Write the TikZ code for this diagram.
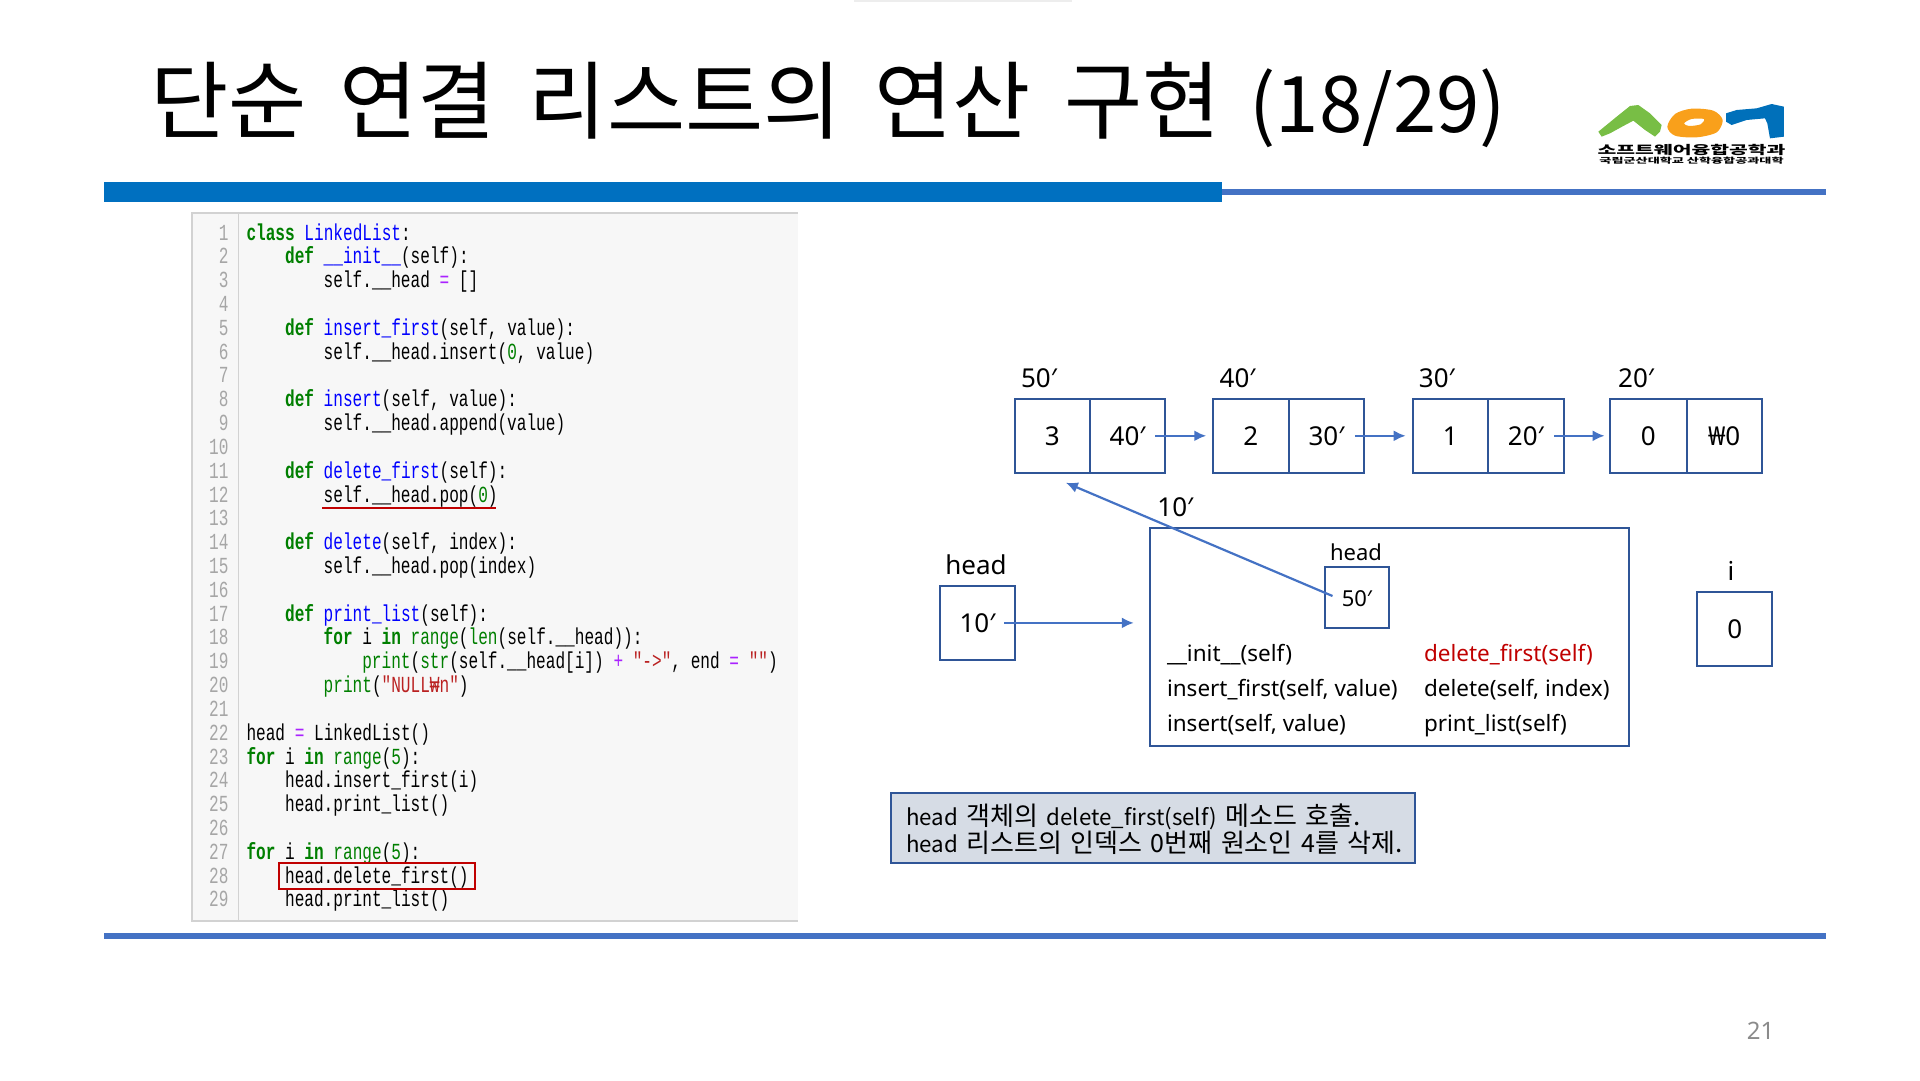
\documentclass[tikz,border=0pt]{standalone}
\usepackage{fontspec}
\setmainfont{Noto Sans}
\newfontfamily\krfont{Noto Sans CJK KR}
\newfontfamily\codefont[FakeStretch=0.7]{Liberation Mono}
\usetikzlibrary{arrows.meta}
\definecolor{barBlue}{HTML}{0070C0}
\definecolor{thinBlue}{HTML}{4472C4}
\definecolor{boxBlue}{HTML}{2F5597}
\definecolor{noteFill}{HTML}{D6DCE5}
\definecolor{markRed}{HTML}{C00000}
\definecolor{panelFill}{HTML}{F7F7F7}
\definecolor{panelLine}{HTML}{D2D2D2}
\definecolor{numGray}{HTML}{A6A6A6}
\definecolor{pageGray}{HTML}{8B8B8B}
\definecolor{kwColor}{HTML}{007F00}
\definecolor{fnColor}{HTML}{0000FF}
\definecolor{opColor}{HTML}{AA22FF}
\definecolor{strColor}{HTML}{BA2121}
\definecolor{logoGreen}{HTML}{78BE45}
\definecolor{logoOrange}{HTML}{F9A01B}
\definecolor{logoBlue}{HTML}{0070BA}
\newcommand{\kwd}[1]{\textcolor{kwColor}{\bfseries #1}}
\newcommand{\fnc}[1]{\textcolor{fnColor}{#1}}
\newcommand{\blt}[1]{\textcolor{kwColor}{#1}}
\newcommand{\opr}[1]{\textcolor{opColor}{#1}}
\newcommand{\strg}[1]{\textcolor{strColor}{#1}}
\newcommand{\kor}[1]{{\fontsize{26}{27}\selectfont #1}}
\newcommand{\digt}[1]{{\fontsize{25}{27}\selectfont #1}}
\newcommand{\tgap}{\hspace{33pt}}
\newcommand{\ngap}{\hspace{8.5pt}}
\newcommand{\codeline}[3]{\node[codetext] (ln#1) at ({246.5+9.65*#2},{240+23.82*(#1-1)}) {#3};}
\tikzset{
  codetext/.style={anchor=base west,inner sep=0pt,outer sep=0pt,font=\codefont\fontsize{23}{26}\selectfont},
  numtext/.style={anchor=base east,inner sep=0pt,outer sep=0pt,text=numGray,font=\codefont\fontsize{23}{26}\selectfont},
  cell/.style={draw=boxBlue,line width=2pt,inner sep=0pt,outer sep=0pt,text height=19pt,text depth=0pt,font=\fontsize{26}{30}\selectfont},
  addr/.style={inner sep=0pt,outer sep=0pt,text height=19pt,text depth=0pt,font=\fontsize{26}{30}\selectfont},
  smalladdr/.style={inner sep=0pt,outer sep=0pt,text height=16pt,text depth=0pt,font=\fontsize{22}{26}\selectfont},
  method/.style={anchor=base west,inner sep=0pt,outer sep=0pt,font=\fontsize{22.5}{28}\selectfont},
  note/.style={anchor=base west,inner sep=0pt,font=\krfont\fontsize{22.3}{27}\selectfont},
  ptr/.style={draw=thinBlue,line width=2.2pt,-{Latex[length=12pt,width=11pt]}},
  redmark/.style={draw=markRed,line width=2pt}
}
\begin{document}
\begin{tikzpicture}[x=1pt,y=-1pt]
\useasboundingbox (0,0) rectangle (1920,1080);
\fill[black!7] (854,0) rectangle (1072,2);

\node[anchor=base west,inner sep=0pt,font=\krfont\fontsize{85}{90}\selectfont] (title) at (150,132) {단순\tgap{}연결\tgap{}리스트의\tgap{}연산\tgap{}구현\hspace{29pt}{\fontsize{78}{90}\selectfont(18/29)}};

\begin{scope}[shift={(1580,90)},x=0.3333pt,y=-0.3333pt]
\fill[logoGreen] (55,125) -- (110,80) -- (150,48) -- (175,45) -- (210,70) -- (245,105) -- (240,125) -- (225,140) -- (195,120) -- (160,92) -- (130,108) -- (90,130) -- (65,140) -- cycle;
\fill[logoOrange,even odd rule] plot[smooth cycle] coordinates {(262,110) (285,72) (335,56) (400,62) (428,90) (410,127) (350,142) (285,137)}
  plot[smooth cycle] coordinates {(312,100) (335,87) (372,87) (362,103) (327,108)};
\fill[logoBlue] (438,70) -- (470,60) -- (530,55) -- (575,42) -- (612,50) -- (612,140) -- (570,145) -- (562,100) -- (555,85) -- (500,90) -- (455,105) -- (438,95) -- cycle;
\end{scope}
\node[inner sep=0pt,xscale=1.7,font=\krfont\bfseries\fontsize{12}{14}\selectfont] (logotop) at (1691.5,150) {소프트웨어융합공학과};
\node[inner sep=0pt,xscale=1.75,font=\krfont\bfseries\fontsize{7.5}{9}\selectfont] (logosub) at (1691.5,161) {국립군산대학교 산학융합공과대학};

\fill[barBlue] (104,182) rectangle (1222,202);
\fill[thinBlue] (1222,189) rectangle (1825.7,195);
\fill[thinBlue] (104,933.3) rectangle (1825.7,939);

\fill[panelFill] (191.7,212.7) rectangle (797.6,920.7);
\draw[panelLine,line width=2pt] (797.6,212.7) -- (191.7,212.7) -- (191.7,920.7) -- (797.6,920.7);
\draw[panelLine,line width=1.5pt] (238.3,212.7) -- (238.3,920.7);
\foreach \n in {1,...,29}
  \node[numtext] (num\n) at (228.5,{240+23.82*(\n-1)}) {\n};

\codeline{1}{0}{\kwd{class} \fnc{LinkedList}:}
\codeline{2}{4}{\kwd{def} \fnc{\_\_init\_\_}(self):}
\codeline{3}{8}{self.\_\_head \opr{=} []}
\codeline{5}{4}{\kwd{def} \fnc{insert\_first}(self, value):}
\codeline{6}{8}{self.\_\_head.insert(\blt{0}, value)}
\codeline{8}{4}{\kwd{def} \fnc{insert}(self, value):}
\codeline{9}{8}{self.\_\_head.append(value)}
\codeline{11}{4}{\kwd{def} \fnc{delete\_first}(self):}
\codeline{12}{8}{self.\_\_head.pop(\blt{0})}
\codeline{14}{4}{\kwd{def} \fnc{delete}(self, index):}
\codeline{15}{8}{self.\_\_head.pop(index)}
\codeline{17}{4}{\kwd{def} \fnc{print\_list}(self):}
\codeline{18}{8}{\kwd{for} i \kwd{in} \blt{range}(\blt{len}(self.\_\_head)):}
\codeline{19}{12}{\blt{print}(\blt{str}(self.\_\_head[i]) \opr{+} \strg{"->"}, end \opr{=} \strg{""})}
\codeline{20}{8}{\blt{print}(\strg{"NULL₩n"})}
\codeline{22}{0}{head \opr{=} LinkedList()}
\codeline{23}{0}{\kwd{for} i \kwd{in} \blt{range}(\blt{5}):}
\codeline{24}{4}{head.insert\_first(i)}
\codeline{25}{4}{head.print\_list()}
\codeline{27}{0}{\kwd{for} i \kwd{in} \blt{range}(\blt{5}):}
\codeline{28}{4}{head.delete\_first()}
\codeline{29}{4}{head.print\_list()}

\draw[redmark] (322,508) -- (496,508);
\draw[redmark] (279,862.7) rectangle (474.7,889.3);

\node[cell,minimum width=75.5pt,minimum height=73.6pt] (data1) at (1052.25,435.8) {3};
\node[cell,minimum width=75.2pt,minimum height=73.6pt] (link1) at (1127.6,435.8) {40′};
\node[cell,minimum width=76.3pt,minimum height=73.6pt] (data2) at (1250.9,435.8) {2};
\node[cell,minimum width=75.7pt,minimum height=73.6pt] (link2) at (1326.5,435.8) {30′};
\node[cell,minimum width=75.2pt,minimum height=73.6pt] (data3) at (1450.3,435.8) {1};
\node[cell,minimum width=75.8pt,minimum height=73.6pt] (link3) at (1525.8,435.8) {20′};
\node[cell,minimum width=76.4pt,minimum height=73.6pt] (data4) at (1648.4,435.8) {0};
\node[cell,minimum width=75.2pt,minimum height=73.6pt] (link4) at (1724.2,435.8) {₩0};

\node[addr] (addr1) at (1039,378) {50′};
\node[addr] (addr2) at (1237.6,378) {40′};
\node[addr] (addr3) at (1436.8,378) {30′};
\node[addr] (addr4) at (1636,378) {20′};

\draw[ptr] ([xshift=-10pt]link1.east) -- ([xshift=-6.5pt]data2.west);
\draw[ptr] ([xshift=-9.5pt]link2.east) -- ([xshift=-7pt]data3.west);
\draw[ptr] ([xshift=-9.7pt]link3.east) -- ([xshift=-5.6pt]data4.west);

\node[addr,text height=20pt] (headlabel) at (976,564) {head};
\node[cell,minimum width=75.8pt,minimum height=74.3pt] (headbox) at (977.5,622.9) {10′};
\node[addr] (objaddr) at (1175.3,507.3) {10′};
\node[draw=boxBlue,line width=2pt,inner sep=0pt,outer sep=0pt,minimum width=478.8pt,minimum height=217.7pt] (objbox) at (1389.4,636.85) {};
\node[smalladdr] (objheadlabel) at (1356,552.7) {head};
\node[cell,smalladdr,draw=boxBlue,text height=18pt,minimum width=63.4pt,minimum height=61pt] (objhead) at (1356.9,597.2) {50′};

\node[method] (m1) at (1167,661) {\_\_init\_\_(self)};
\node[method] (m2) at (1167,696) {insert\_first(self, value)};
\node[method] (m3) at (1167,731) {insert(self, value)};
\node[method,text=markRed] (m4) at (1424,661) {delete\_first(self)};
\node[method] (m5) at (1424,696) {delete(self, index)};
\node[method] (m6) at (1424,731) {print\_list(self)};

\draw[ptr] ([xshift=-11.4pt]headbox.east) -- ([xshift=-16.2pt]objbox.west |- headbox.east);
\draw[ptr] ([xshift=7.3pt,yshift=1.2pt]objhead.west) -- ([xshift=13.6pt,yshift=-10.1pt]data1.south);

\node[addr] (ilabel) at (1731,570.7) {i};
\node[cell,minimum width=75.2pt,minimum height=74.3pt] (ibox) at (1734.8,628.8) {0};

\node[draw=boxBlue,fill=noteFill,line width=2pt,inner sep=0pt,outer sep=0pt,minimum width=524.3pt,minimum height=70.6pt] (notebox) at (1152.85,828) {};
\node[note] (note1) at (905.8,825) {head\ngap{}\kor{객체의}\ngap{}delete\_first(self)\ngap{}\kor{메소드\ngap{}호출.}};
\node[note] (note2) at (905.8,852) {head\ngap{}\kor{리스트의\ngap{}인덱스}\ngap{}\digt{0}\kor{번째\ngap{}원소인}\ngap{}\digt{4}\kor{를\ngap{}삭제.}};

\node[inner sep=0pt,text=pageGray,font=\fontsize{24}{28}\selectfont] (pagenum) at (1760.6,1031) {21};
\end{tikzpicture}
\end{document}
